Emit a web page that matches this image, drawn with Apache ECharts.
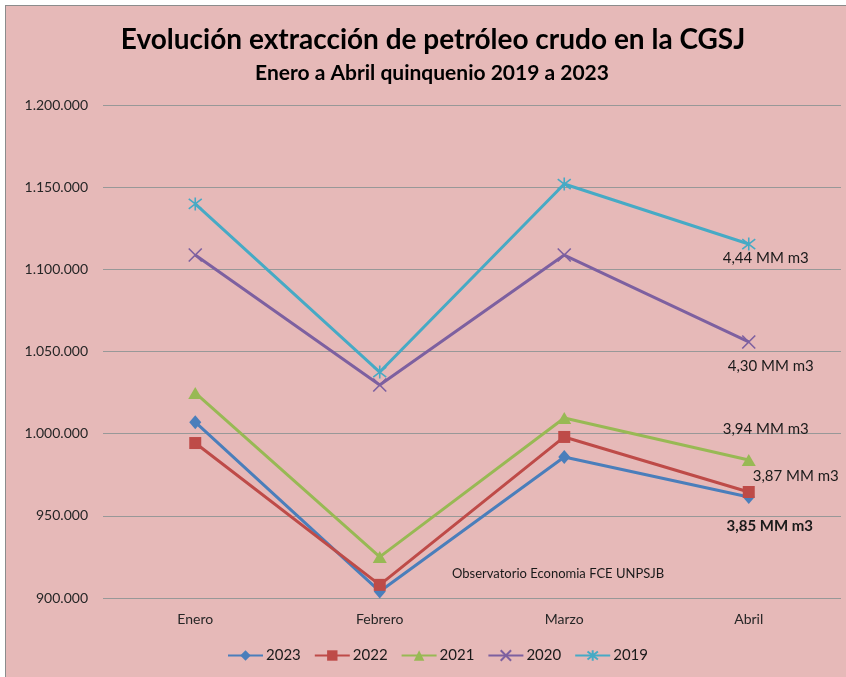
<!DOCTYPE html>
<html>
<head>
<meta charset="utf-8">
<script src="https://cdn.jsdelivr.net/npm/echarts@6/dist/echarts.min.js"></script>
<style>
  html, body { margin: 0; padding: 0; background: #ffffff; }
  #wrap { position: relative; width: 846px; height: 677px; overflow: hidden; }
  #bg { position: absolute; left: 5px; top: 5px; right: 0; bottom: 0; background: #E6B9B8; border-left: 1px solid #8c8c8c; border-top: 1px solid #8c8c8c; }
  #chart { position: absolute; left: 0; top: 0; width: 846px; height: 677px; }
</style>
</head>
<body>
<div id="wrap"><div id="bg"></div><div id="chart"></div></div>
<script>
const categories = ['Enero', 'Febrero', 'Marzo', 'Abril'];
const seriesNames = ['2023', '2022', '2021', '2020', '2019'];
const values2023 = [1007000, 904000, 985800, 961500];
const values2022 = [994300, 908000, 998000, 964500];
const values2021 = [1024800, 925000, 1009500, 984000];
const values2020 = [1108700, 1029600, 1108700, 1055800];
const values2019 = [1139800, 1037500, 1151900, 1115400];
const abrilLabels = ['3,85 MM m3', '3,87 MM m3', '3,94 MM m3', '4,30 MM m3', '4,44 MM m3'];
const yTicks = [900000, 950000, 1000000, 1050000, 1100000, 1150000, 1200000];

const colors = ['#4A7EBB', '#BE4B48', '#98B954', '#7D60A0', '#46AAC5'];
const symbols = ['diamond', 'rect', 'triangle',
  'path://M0,0L10,10M10,0L0,10',
  'path://M0,0L10,10M10,0L0,10M5,-1.5L5,11.5'];
const symbolSizes = [[12, 14], 12, [14, 12], 13, 13];
const labelOffsets = [[21, 29], [47, -16], [17, -31], [22, 24], [17, 14]];
const dataSets = [values2023, values2022, values2021, values2020, values2019];

const fmt = v => String(v).replace(/\B(?=(\d{3})+(?!\d))/g, '.');
const FONT = 'Lato';

const series = seriesNames.map((name, i) => {
  const isPath = i >= 3;
  return {
    name: name,
    type: 'line',
    data: dataSets[i].map((v, j) => {
      const d = { value: v };
      if (j === categories.length - 1) {
        d.label = {
          show: true,
          position: 'inside',
          offset: labelOffsets[i],
          formatter: abrilLabels[i],
          fontFamily: FONT,
          fontSize: 15,
          fontWeight: i === 0 ? 'bold' : 'normal',
          color: '#1a1a1a'
        };
      }
      return d;
    }),
    symbol: symbols[i],
    symbolSize: symbolSizes[i],
    showAllSymbol: true,
    lineStyle: { color: colors[i], width: 3 },
    itemStyle: isPath
      ? { color: colors[i], borderColor: colors[i], borderWidth: 1.6 }
      : { color: colors[i], borderWidth: 0 },
    label: { show: false },
    emphasis: { disabled: true },
    animation: false,
    z: 2 + i
  };
});

const chart = echarts.init(document.getElementById('chart'), null, { renderer: 'canvas' });
chart.setOption({
  backgroundColor: 'transparent',
  animation: false,
  grid: { left: 103, right: 5, top: 105, bottom: 79, containLabel: false },
  xAxis: {
    type: 'category',
    data: categories,
    boundaryGap: true,
    axisLine: { show: false },
    axisTick: { show: false },
    axisLabel: { fontFamily: FONT, fontSize: 14, color: '#262626', margin: 14 }
  },
  yAxis: {
    type: 'value',
    min: yTicks[0],
    max: yTicks[yTicks.length - 1],
    interval: 50000,
    axisLine: { show: false },
    axisTick: { show: false },
    splitLine: { lineStyle: { color: '#989898', width: 1 } },
    axisLabel: { fontFamily: FONT, fontSize: 14, color: '#262626', margin: 15, formatter: v => fmt(v) }
  },
  legend: {
    data: seriesNames,
    left: 227,
    top: 648,
    padding: 0,
    itemWidth: 35,
    itemHeight: 13,
    itemGap: 13,
    textStyle: { fontFamily: FONT, fontSize: 15, color: '#1a1a1a', padding: [0, 0, 0, -2] }
  },
  graphic: [
    { type: 'text', x: 433, y: 40, style: { text: 'Evolución extracción de petróleo crudo en la CGSJ', fontFamily: FONT, fontSize: 28, fontWeight: 'bold', fill: '#000', textAlign: 'center', textVerticalAlign: 'middle' } },
    { type: 'text', x: 432, y: 73, style: { text: 'Enero a Abril quinquenio 2019 a 2023', fontFamily: FONT, fontSize: 21, fontWeight: 'bold', fill: '#000', textAlign: 'center', textVerticalAlign: 'middle' } },
    { type: 'text', x: 452, y: 574, style: { text: 'Observatorio Economia FCE UNPSJB', fontFamily: FONT, fontSize: 13, fill: '#1a1a1a', textAlign: 'left', textVerticalAlign: 'middle' } }
  ],
  series: series
});
</script>
</body>
</html>
